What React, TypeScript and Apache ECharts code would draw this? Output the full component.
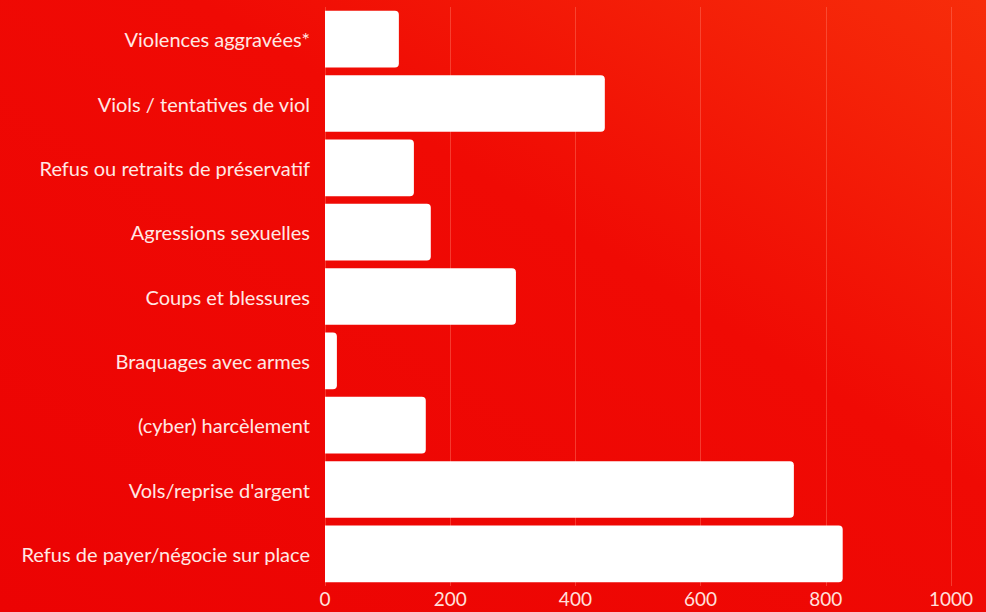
import React, { useEffect, useRef } from "react";
import * as echarts from "echarts";

const categories = [
  "Violences aggravées*",
  "Viols / tentatives de viol",
  "Refus ou retraits de préservatif",
  "Agressions sexuelles",
  "Coups et blessures",
  "Braquages avec armes",
  "(cyber) harcèlement",
  "Vols/reprise d'argent",
  "Refus de payer/négocie sur place",
];
const values = [118, 447, 142, 169, 305, 19, 161, 749, 827];
const xTicks = { min: 0, max: 1000, interval: 200 };

export default function App() {
  const ref = useRef<HTMLDivElement>(null);
  useEffect(() => {
    if (!ref.current) return;
    const chart = echarts.init(ref.current, null, { renderer: "svg" });
    chart.setOption({
      animation: false,
      backgroundColor: new echarts.graphic.LinearGradient(0, 1, 1, 0, [
        { offset: 0, color: "#ec0303" },
        { offset: 0.6, color: "#f00a04" },
        { offset: 1, color: "#f72d0a" },
      ]),
      grid: { left: 325, right: 35, top: 7, bottom: 26, containLabel: false },
      xAxis: {
        type: "value",
        min: xTicks.min,
        max: xTicks.max,
        interval: xTicks.interval,
        axisLine: { show: false },
        axisTick: { show: false },
        splitLine: { show: true, lineStyle: { color: "rgba(255,120,100,0.45)", width: 1 } },
        axisLabel: {
          color: "#ffe0dc",
          fontSize: 19,
          fontFamily: "Lato",
          margin: 3,
          formatter: (v: number) => String(v),
        },
      },
      yAxis: {
        type: "category",
        data: categories,
        inverse: true,
        axisLine: { show: false },
        axisTick: { show: false },
        splitLine: { show: false },
        axisLabel: {
          color: "#ffe8e4",
          fontSize: 20,
          fontFamily: "Lato",
          margin: 15,
        },
      },
      series: [
        {
          type: "bar",
          data: values,
          barCategoryGap: "12%",
          itemStyle: { color: "#ffffff", borderRadius: [0, 4, 4, 0] },
        },
      ],
    });
    return () => chart.dispose();
  }, []);
  return (
    <div
      ref={ref}
      style={{ position: "fixed", left: 0, top: 0, width: 986, height: 612 }}
    />
  );
}
